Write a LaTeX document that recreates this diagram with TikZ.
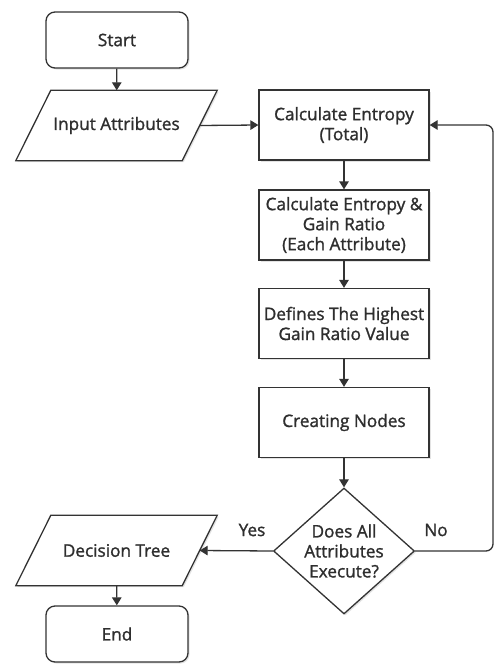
\documentclass[tikz,border=0pt]{standalone}
\usepackage{fontspec}
\setmainfont{Open Sans}[FakeBold=1.3]
\usepackage{tikz}
\usetikzlibrary{positioning, shapes.geometric, arrows.meta, shadows, backgrounds}

\definecolor{flowline}{HTML}{333333}
\definecolor{flowtext}{HTML}{2E2E2E}

\tikzset{
  boxshadow/.style={drop shadow={opacity=0.22, shadow xshift=1.5pt, shadow yshift=-1.5pt}},
  base/.style={draw=flowline, line width=1.3pt, fill=white, text=flowtext, align=center,
               font=\fontsize{17.2}{20}\selectfont, boxshadow},
  terminal/.style={base, rounded corners=9pt, minimum width=142pt, minimum height=56pt},
  process/.style={base, minimum width=170pt, minimum height=70pt, inner sep=2pt},
  io/.style={text=flowtext, align=center, font=\fontsize{17.2}{20}\selectfont,
             minimum width=166pt, minimum height=70pt},
  ioframe/.style={draw=flowline, line width=1.3pt, fill=white, boxshadow},
  decision/.style={base, diamond, aspect=1.12, inner sep=0pt, minimum width=141pt, minimum height=126pt},
  answer/.style={text=flowtext, font=\fontsize{17.2}{20}\selectfont},
  flow/.style={draw=flowline, line width=1.3pt, -{Triangle[length=8pt, width=9.5pt]}}
}

\begin{document}
\begin{tikzpicture}[x=1pt, y=-1pt]
    \useasboundingbox (0, 0) rectangle (494, 664);

    % left column
    \node[terminal] (start) at (117, 40)      {Start};
    \node[io]       (inp)   at (116.5, 125.5) {Input Attributes};
    \node[io]       (tree)  at (116.5, 550.5) {Decision Tree};
    \node[terminal] (endn)  at (117, 634)     {End};

    % main column
    \node[process]  (ent)   at (344, 125)   {Calculate Entropy\\(Total)};
    \node[process]  (gain)  at (344, 225)   {Calculate Entropy \&\\Gain Ratio\\(Each Attribute)};
    \node[process]  (high)  at (344, 323.5) {Defines The Highest\\Gain Ratio Value};
    \node[process]  (cnode) at (344, 422.5) {Creating Nodes};
    \node[decision] (dec)   at (344, 551)   {Does All\\Attributes\\Execute?};

    % slanted frames of the data nodes, behind their text
    \begin{scope}[on background layer]
        \foreach \n in {inp, tree} {
            \draw[ioframe] ([xshift=17.5pt]\n.north west) -- ([xshift=17.5pt]\n.north east)
                -- ([xshift=-17.5pt]\n.south east) -- ([xshift=-17.5pt]\n.south west) -- cycle;
        };
    \end{scope}

    % branch labels
    \node[answer] (yes) at (252, 530) {Yes};
    \node[answer] (no)  at (436, 530) {No};

    % loop back goes along the right edge
    \coordinate (back) at (493, 551);

    \draw[flow] (start) -- (inp);
    \draw[flow] (inp.east) -- (ent.west);
    \foreach \a/\b in {ent/gain, gain/high, high/cnode, cnode/dec} {
        \draw[flow] (\a) -- (\b);
    };
    \draw[flow] (dec.west) -- (tree.east);
    \draw[flow] (tree) -- (endn);
    \draw[flow, rounded corners=7pt] (dec.east) -- (back) |- (ent.east);
\end{tikzpicture}
\end{document}
